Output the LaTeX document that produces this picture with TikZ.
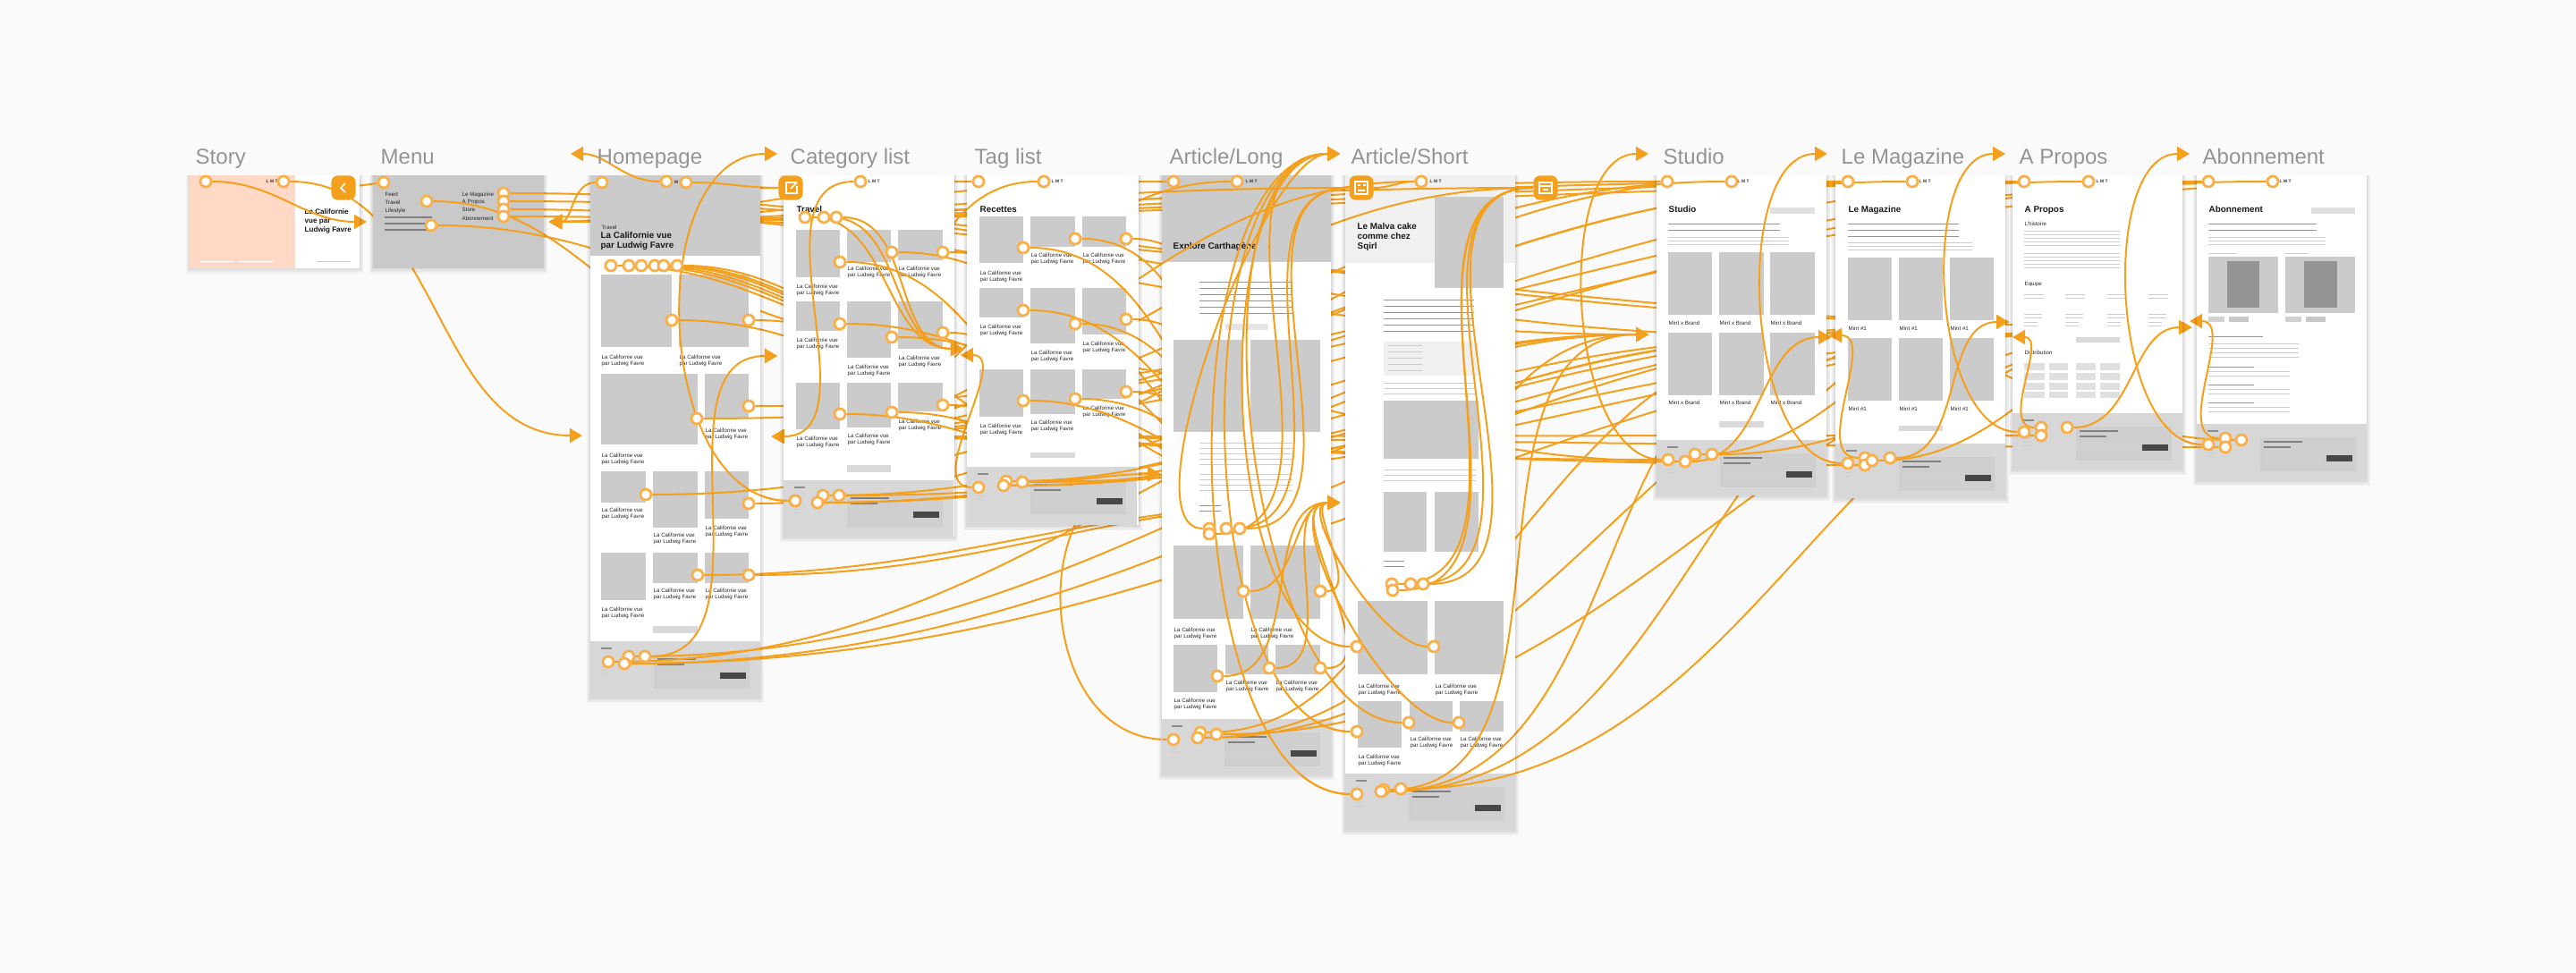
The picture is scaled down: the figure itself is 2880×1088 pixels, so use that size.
\documentclass[tikz,border=0pt]{standalone}
\usepackage{fontspec}
\setmainfont{Liberation Sans}
\usetikzlibrary{arrows.meta, positioning}
\definecolor{wirec}{HTML}{F5A01D}
\definecolor{ringc}{HTML}{F9B04A}
\definecolor{blockc}{HTML}{CBCBCB}
\definecolor{footc}{HTML}{D7D7D7}
\definecolor{panelc}{HTML}{CFCFCF}
\definecolor{peachc}{HTML}{FFD8C6}
\pgfdeclarelayer{links}
\pgfdeclarelayer{screens}
\pgfdeclarelayer{over}
\pgfsetlayers{links,screens,over,main}
\tikzset{
  wire/.style={->, >={Triangle[length=.14cm,width=.16cm]}, color=wirec, line width=.57pt},
  toR/.style={out=0,in=180},
  toL/.style={out=180,in=0},
  loopL/.style={out=180,in=180},
  hot/.style={circle, fill=white, draw=ringc, line width=.8pt, minimum size=.12cm, inner sep=0},
  btn/.style={rectangle, rounded corners=2pt, fill=wirec, minimum width=.27cm, minimum height=.27cm, inner sep=0},
  icon/.style={draw=white, line width=.5pt},
  ttl/.style={anchor=base west, inner sep=0, text=black!42, font=\fontsize{6.83pt}{8pt}\selectfont},
  capt/.style={anchor=north west, inner sep=0, align=left, text=black!85, font=\fontsize{1.75pt}{2pt}\selectfont},
  head/.style={anchor=north west, inner sep=0, align=left, text=black!90, font=\bfseries\fontsize{2.8pt}{3.1pt}\selectfont},
  logo/.style={anchor=west, inner sep=0, text=black!80, font=\bfseries\fontsize{1.4pt}{2pt}\selectfont},
  barL/.style={fill=black!20},
  barD/.style={fill=black!42}
}
\newcounter{cp}
\newcommand{\capt}[3]{\stepcounter{cp}\node[capt] (cp\thecp) at (#1,#2) {#3};}
\newcommand{\screen}[4]{%
  \foreach \k in {1,2,3,4}{\fill[black,opacity=.03] ({#1-\k},{#2}) rectangle ({#3+\k},{#4+1.5*\k});}
  \fill[white] (#1,#2) rectangle (#3,#4);}
\newcommand{\para}[6]{\foreach \k in {1,...,#4}{\fill[#6] (#1,{#3+(\k-1)*#5}) rectangle (#2,{#3+(\k-1)*#5+1.3});}}
\newcommand{\foot}[3]{%
  \fill[footc] (#1,#2) rectangle ({#1+190},#3);
  \fill[panelc] ({#1+71},{#2+15}) rectangle ({#1+178},{#2+53});
  \fill[black!72] ({#1+145},{#2+35}) rectangle ({#1+174},{#2+42});
  \fill[black!45] ({#1+12},{#2+7}) rectangle ({#1+24},{#2+9});
  \fill[black!50] ({#1+75},{#2+19}) rectangle ({#1+118},{#2+21});
  \fill[black!50] ({#1+75},{#2+25}) rectangle ({#1+105},{#2+27});
  \para{#1+12}{#1+19}{#2+28}{3}{4}{barL}
  \fill[black!18] ({#1+76},{#2+35}) rectangle ({#1+142},{#2+42});}
\newcommand{\wires}[2]{%
  \begin{pgfonlayer}{links}\path[wire] #2;\end{pgfonlayer}
  \begin{pgfonlayer}{over}\begin{scope}\clip #1;\path[wire] #2;\end{scope}\end{pgfonlayer}}
\begin{document}
\begin{tikzpicture}[x=.01cm, y=-.01cm]
  \useasboundingbox (0,0) rectangle (2880,1088);
  \begin{pgfonlayer}{links}\fill[black!2] (0,0) rectangle (2880,1088);\end{pgfonlayer}
  % Arrow ends
  \foreach \nm/\x/\y in {tgMenu/410/248, tgMenuR/614/248, tgHome/651/487, tgHomeT/638/172, tgHomeR/863/488,
    tgCat/869/398, tgCatT/869/172, tgTag/1077/390, tgTagR/1074/397, tgLong/1297/530, tgShort/1498/562,
    tgShortT/1498/172, tgStudio/1843/374, tgStudioT/1843/172, tgStudioR/2045/375, tgMag/2047/377,
    tgMagT/2043/172, tgMagR/2250/377, tgProp/2246/360, tgPropT/2242/172, tgPropR/2448/359,
    tgAbon/2450/366, tgAbonT/2448/172, endA/1960/200, endB/2120/205, endC/2500/205, endD/2640/205}
    \coordinate (\nm) at (\x,\y);
  % Hotspots
  \foreach \nm/\x/\y in {
    sA/230/203, sB/317/203,
    mA/429/204, mB/477/225, mC/482/252, mD/563/216, mE/563/225, mF/563/234, mG/563/242,
    hA/673/204, hB/745/203, hC/767/204, hT1/683/297, hT2/703/297, hT3/717/297, hT4/732/297, hT5/742/297, hT6/757/297,
    hI1/751/358, hI2/837/358, hI3/837/454, hI4/779/468, hI5/722/553, hI6/837/563, hI7/837/643, hI8/780/643,
    hF1/680/740, hF2/703/734, hF3/698/742, hF4/721/734,
    cB/962/203, cC/900/243, cD/921/243, cE/935/243, cF/997/282, cG/1054/282, cH/939/293, cI/939/362, cJ/1054/372,
    cK/997/377, cL/1054/453, cM/939/463, cN/997/461, cF1/889/560, cF2/920/554, cF3/914/562, cF4/938/554,
    tA/1094/203, tB/1167/203, tC/1144/277, tD/1202/267, tE/1259/267, tF/1144/347, tG/1202/362, tH/1259/357,
    tI/1144/448, tJ/1202/446, tK/1259/438, tF1/1094/545, tF2/1125/538, tF3/1122/543, tF4/1143/539,
    lA/1312/203, lB/1383/203, lC/1352/591, lD/1371/591, lE/1386/591, lF/1352/597, lG/1390/661, lH/1476/661,
    lI/1361/756, lJ/1419/747, lK/1476/747, lF1/1312/827, lF2/1342/819, lF3/1339/825, lF4/1360/821,
    pB/1589/203, pC/1556/653, pD/1577/653, pE/1591/653, pF/1557/660, pG/1517/723, pH/1603/723, pI/1575/808,
    pJ/1631/808, pK/1517/818, pF1/1517/888, pF2/1547/883, pF3/1544/885, pF4/1566/882,
    uA/1864/203, uB/1936/203, uF1/1865/514, uF2/1884/516, uF3/1895/508, uF4/1914/508,
    gA/2066/203, gB/2138/203, gF1/2066/518, gF2/2085/512, gF3/2085/520, gF4/2093/515, gF5/2113/512,
    oA/2263/203, oB/2335/203, oF1/2263/483, oF2/2282/478, oF3/2282/487, oF4/2311/478,
    aA/2469/203, aB/2541/203, aF1/2469/497, aF2/2488/490, aF3/2488/500, aF4/2506/492}
    \node[hot] (\nm) at (\x,\y) {};
  % Buttons
  \node[btn] (btnStory) at (384,210) {};
  \node[btn] (btnCat) at (884,210) {};
  \node[btn] (btnShort) at (1522,210) {};
  \node[btn] (btnStudio) at (1728,210) {};
  \draw[icon] (386,205) -- (381,210) -- (386,215);
  \draw[icon] (888,204) -- (879,204) -- (879,216) -- (891,216) -- (891,208) (884,211) -- (891,204) (887,204) -- (891,204);
  \draw[icon] (1515,203) rectangle (1529,217) (1518,207) -- (1521,207) (1524,207) -- (1527,207) (1518,213) -- (1526,213);
  \draw[icon] (1721,204) rectangle (1735,216) (1721,208) -- (1735,208) (1725,212) -- (1731,212);
  % Connectors
  \wires{(212,196) rectangle (402,300)}{
    (sA) edge[toR] (tgMenu)
    (sB) edge[toR] (tgHome)}
  \wires{(417,196) rectangle (608,300)}{
    (mA) edge[-] (btnStory)
    (mB) edge[toR] (tgCat)
    (mC) edge[toR] (tgTag)
    (mD) edge[toR] (tgMag)
    (mE) edge[toR] (tgProp)
    (mF) edge[toR] (tgStudio)
    (mG) edge[toR] (tgAbon)}
  \wires{(660,196) rectangle (850,780)}{
    (hA) edge[toL] (tgMenuR)
    (hB) edge[toL] (tgHomeT)
    (hC) edge[-,toR] (btnCat)
    (hT1) edge[toR] (tgTag) (hT2) edge[toR] (tgTag) (hT3) edge[toR] (tgTag)
    (hT4) edge[toR] (tgTag) (hT5) edge[toR] (tgTag) (hT6) edge[toR] (tgTag)
    (hI1) edge[toR] (tgLong) (hI2) edge[toR] (tgLong)
    (hI3) edge[-,toR] (endC) (hI4) edge[-,toR] (endD)
    (hI5) edge[-,toR] (endB) (hI6) edge[-,toR] (endA)
    (hI7) edge[toR] (tgShort) (hI8) edge[toR] (tgShort)
    (hF1) edge[toR] (tgStudio) (hF2) edge[toR] (tgMag)
    (hF3) edge[toR] (tgProp) (hF3) edge[toR] (tgAbon)
    (hF4) edge[toR] (tgCat)}
  \wires{(876,196) rectangle (1067,600)}{
    (btnCat) edge[toL] (tgMenuR)
    (cB) edge[toL] (tgHomeR)
    (cC) edge[toR] (tgTag) (cD) edge[toR] (tgTag) (cE) edge[toR] (tgTag)
    (cF) edge[toR] (tgShort) (cG) edge[toR] (tgShort) (cH) edge[toR] (tgLong)
    (cI) edge[toR] (tgShort) (cJ) edge[toR] (tgLong) (cK) edge[toR] (tgShort)
    (cL) edge[toR] (tgLong) (cM) edge[toR] (tgLong) (cN) edge[toR] (tgLong)
    (cF2) edge[toR] (tgStudio) (cF3) edge[toR] (tgMag)
    (cF3) edge[toR] (tgProp) (cF4) edge[toR] (tgAbon)}
  \wires{(660,196) rectangle (1067,780)}{(cF1) edge[loopL] (tgCatT)}
  \wires{(1081,196) rectangle (1273,587)}{
    (tA) edge[toL] (tgMenuR)
    (tB) edge[toL] (tgHomeR)
    (tC) edge[toR] (tgShort) (tD) edge[toR] (tgShort) (tE) edge[toR] (tgShort)
    (tF) edge[toR] (tgShort) (tG) edge[toR] (tgShort) (tH) edge[toR] (tgShort)
    (tI) edge[toR] (tgShort) (tJ) edge[toR] (tgShort) (tK) edge[toR] (tgShort)
    (tF1) edge[toL] (tgTagR)
    (tF2) edge[toR] (tgStudio) (tF3) edge[toR] (tgMag)
    (tF3) edge[toR] (tgProp) (tF4) edge[toR] (tgAbon) (tF4) edge[toR] (tgLong)}
  \wires{(1299,196) rectangle (1488,866)}{
    (lA) edge[toL] (tgMenuR)
    (lB) edge[toL] (tgHomeR)
    (lC) edge[loopL,looseness=.5] (tgShortT) (lF) edge[toR] (tgShortT)
    (lD) edge[-,toR] (btnShort) (lE) edge[-,toR] (btnShort)
    (lG) edge[toR] (tgShort) (lH) edge[toR] (tgShort) (lI) edge[toR] (tgShort)
    (lJ) edge[toR] (tgShort) (lK) edge[toR] (tgShort)
    (lF1) edge[loopL,looseness=1.3] (tgLong)
    (lF2) edge[toR] (tgStudio) (lF3) edge[toR] (tgMag)
    (lF3) edge[toR] (tgProp) (lF4) edge[toR] (tgAbon)}
  \wires{(1299,196) rectangle (1694,928)}{
    (btnShort) edge[toL] (tgMenuR)
    (pB) edge[-,toL] (btnShort)
    (pB) edge[toL] (tgHomeR)
    (pC) edge[-,toR] (btnStudio) (pD) edge[-,toR] (btnStudio)
    (pE) edge[-,toR] (btnStudio) (pF) edge[-,toR] (btnStudio)
    (pG) edge[loopL,looseness=.7] (tgShortT) (pH) edge[loopL,looseness=.7] (tgShort)
    (pI) edge[loopL,looseness=.7] (tgShortT) (pJ) edge[loopL,looseness=.7] (tgShort)
    (pK) edge[loopL,looseness=.7] (tgShortT)
    (pF1) edge[loopL,looseness=.7] (tgShortT)
    (pF2) edge[toR] (tgStudio) (pF3) edge[toR] (tgMag)
    (pF3) edge[toR] (tgProp) (pF4) edge[toR] (tgAbon)}
  \wires{(1504,196) rectangle (1694,928)}{
    (btnStudio) edge[toL] (tgMenuR)
    (btnStudio) edge[toL] (tgHomeR)}
  \wires{(1852,196) rectangle (2042,554)}{
    (uA) edge[toL] (tgMenuR)
    (uB) edge[toL] (tgHomeR)
    (uF1) edge[loopL,looseness=.8] (tgStudioT)
    (uF1) edge[toL] (tgHomeR) (uF2) edge[toL] (tgTagR)
    (uF2) edge[toR] (tgMag) (uF3) edge[toR] (tgProp) (uF4) edge[toR] (tgAbon)}
  \wires{(2052,196) rectangle (2242,557)}{
    (gA) edge[toL] (tgMenuR)
    (gB) edge[toL] (tgHomeR)
    (gF2) edge[toL] (tgStudioR) (gF3) edge[toL] (tgHomeR)
    (gF4) edge[toR] (tgAbon) (gF5) edge[toR] (tgProp)}
  \wires{(1852,196) rectangle (2242,557)}{(gF1) edge[loopL,looseness=.8] (tgMagT)}
  \wires{(2250,196) rectangle (2440,525)}{
    (oA) edge[toL] (tgMenuR)
    (oB) edge[toL] (tgHomeR)
    (oF2) edge[toL] (tgMagR) (oF3) edge[toL] (tgHomeR)
    (oF4) edge[toR] (tgAbon)}
  \wires{(2052,196) rectangle (2440,557)}{(oF1) edge[loopL,looseness=.8] (tgPropT)}
  \wires{(2456,196) rectangle (2646,537)}{
    (aA) edge[toL] (tgMenuR)
    (aB) edge[toL] (tgHomeR)
    (aF2) edge[toL] (tgPropR) (aF3) edge[toL] (tgHomeR) (aF4) edge[toL] (tgStudioR)}
  \wires{(2250,196) rectangle (2646,537)}{(aF1) edge[loopL,looseness=.8] (tgAbonT)}
  % Frames
  \begin{pgfonlayer}{screens}
    % Story
    \screen{212}{196}{402}{300}
    \fill[peachc] (212,196) rectangle (330,300);
    \node[logo] (lgStory) at (297,203) {L M T};
    \node[head, font=\bfseries\fontsize{2.3pt}{2.85pt}\selectfont] (hdStory) at (340,233) {La Californie\\vue par\\Ludwig Favre};
    \para{224}{262}{292}{1}{1}{fill=white}
    \para{266}{306}{292}{1}{1}{fill=white}
    \para{354}{392}{292}{1}{1}{barL}
    % Menu
    \screen{417}{196}{608}{300}
    \fill[black!21] (417,196) rectangle (608,300);
    \capt{430}{214}{Feed}
    \capt{430}{223}{Travel}
    \capt{430}{232}{Lifestyle}
    \capt{516}{214}{Le Magazine}
    \capt{516}{223}{A Propos}
    \capt{516}{232}{Store}
    \capt{516}{241}{Abonnement}
    \para{430}{483}{242}{3}{7}{fill=black!50}
    \para{430}{483}{243}{3}{7}{fill=black!50}
    % Homepage
    \screen{660}{196}{850}{780}
    \fill[blockc] (660,196) rectangle (850,286);
    \node[logo] (lgHome) at (749,204) {L M T};
    \capt{672}{251}{Travel}
    \node[head] (hdHome) at (671,259) {La Californie vue\\par Ludwig Favre};
    \foreach \a/\b/\c/\d in {672/307/751/388, 759/307/837/388, 672/418/780/497, 788/418/837/468,
      672/527/722/562, 730/527/780/590, 788/527/837/580, 672/618/722/671, 730/618/780/652, 788/618/837/652}
      \fill[blockc] (\a,\b) rectangle (\c,\d);
    \foreach \x/\y in {672/396, 759/396, 788/478, 672/506, 672/567, 730/595, 788/587, 672/678, 730/657, 788/657}
      {\capt{\x}{\y}{La Californie vue\\par Ludwig Favre}}
    \fill[black!15] (730,700) rectangle (780,708);
    \foot{660}{717}{780}
    % Category list
    \screen{876}{196}{1067}{600}
    \node[logo] (lgCat) at (970,203) {L M T};
    \node[head] (hdCat) at (890,230) {Travel};
    \foreach \a/\b/\c/\d in {890/257/939/310, 947/257/996/293, 1004/257/1054/291, 890/337/939/370, 947/337/996/400,
      1004/337/1054/390, 890/428/939/480, 947/428/996/478, 1004/428/1054/460}
      \fill[blockc] (\a,\b) rectangle (\c,\d);
    \foreach \x/\y in {890/317, 947/297, 1004/297, 890/377, 947/407, 1004/397, 890/487, 947/484, 1004/468}
      {\capt{\x}{\y}{La Californie vue\\par Ludwig Favre}}
    \fill[black!15] (947,520) rectangle (996,528);
    \foot{876}{537}{600}
    % Tag list
    \screen{1081}{196}{1273}{587}
    \node[logo] (lgTag) at (1175,203) {L M T};
    \node[head] (hdTag) at (1095,230) {Recettes};
    \foreach \a/\b/\c/\d in {1095/242/1144/294, 1152/242/1202/276, 1210/242/1259/276, 1095/322/1144/355, 1152/322/1202/384,
      1210/322/1259/374, 1095/413/1144/466, 1152/413/1202/463, 1210/413/1259/446}
      \fill[blockc] (\a,\b) rectangle (\c,\d);
    \foreach \x/\y in {1095/302, 1152/282, 1210/282, 1095/362, 1152/391, 1210/381, 1095/473, 1152/469, 1210/453}
      {\capt{\x}{\y}{La Californie vue\\par Ludwig Favre}}
    \fill[black!15] (1152,506) rectangle (1202,512);
    \foot{1081}{522}{587}
    % Article/Long
    \screen{1299}{196}{1488}{866}
    \fill[blockc] (1299,196) rectangle (1488,293);
    \node[logo] (lgLong) at (1392,203) {L M T};
    \node[head] (hdLong) at (1311,271) {Explore Carthagène};
    \para{1341}{1445}{315}{6}{7}{barD}
    \fill[black!10] (1370,362) rectangle (1418,369);
    \foreach \a/\b/\c/\d in {1312/380/1390/483, 1398/380/1476/483, 1312/610/1390/692, 1398/610/1476/692,
      1312/721/1361/774, 1370/721/1418/754, 1426/721/1476/754}
      \fill[blockc] (\a,\b) rectangle (\c,\d);
    \para{1341}{1445}{495}{5}{6}{barL}
    \para{1341}{1445}{530}{4}{6}{barL}
    \para{1341}{1365}{565}{2}{6}{barD}
    \foreach \x/\y in {1312/701, 1398/701, 1312/780, 1370/760, 1426/760}
      {\capt{\x}{\y}{La Californie vue\\par Ludwig Favre}}
    \foot{1298}{804}{866}
    % Article/Short
    \screen{1504}{196}{1694}{928}
    \fill[black!6] (1504,196) rectangle (1694,294);
    \node[logo] (lgShort) at (1598,203) {L M T};
    \node[head] (hdShort) at (1517,249) {Le Malva cake\\comme chez\\Sqirl};
    \foreach \a/\b/\c/\d in {1604/220/1681/322, 1547/448/1653/513, 1547/550/1595/617, 1604/550/1653/617,
      1518/672/1596/754, 1604/672/1681/754, 1518/784/1567/836, 1576/784/1624/818, 1632/784/1681/818}
      \fill[blockc] (\a,\b) rectangle (\c,\d);
    \fill[black!6] (1547,382) rectangle (1653,420);
    \para{1547}{1648}{335}{6}{7}{barD}
    \para{1552}{1590}{386}{5}{7}{barL}
    \para{1547}{1650}{428}{3}{6}{barL}
    \para{1547}{1650}{525}{3}{6}{barL}
    \para{1547}{1570}{627}{2}{6}{barD}
    \foreach \x/\y in {1518/764, 1604/764, 1518/843, 1576/823, 1632/823}
      {\capt{\x}{\y}{La Californie vue\\par Ludwig Favre}}
    \foot{1504}{865}{928}
    % Studio
    \screen{1852}{196}{2042}{554}
    \node[logo] (lgStudio) at (1942,203) {L M T};
    \node[head] (hdStudio) at (1865,230) {Studio};
    \fill[black!12] (1979,232) rectangle (2029,239);
    \para{1865}{1990}{250}{2}{7}{barD}
    \para{1865}{2000}{265}{3}{4}{barL}
    \foreach \x/\X in {1865/1914, 1922/1972, 1979/2029}{
      \fill[blockc] (\x,282) rectangle (\X,352);
      \fill[blockc] (\x,372) rectangle (\X,442);
      \capt{\x}{358}{Mint x Brand}
      \capt{\x}{447}{Mint x Brand}}
    \fill[black!15] (1922,471) rectangle (1972,478);
    \foot{1852}{492}{554}
    % Le Magazine
    \screen{2052}{196}{2242}{557}
    \node[logo] (lgMag) at (2145,203) {L M T};
    \node[head] (hdMag) at (2066,230) {Le Magazine};
    \para{2066}{2190}{250}{3}{7}{barD}
    \para{2066}{2205}{271}{3}{4}{barL}
    \foreach \x/\X in {2066/2115, 2123/2172, 2180/2229}{
      \fill[blockc] (\x,288) rectangle (\X,358);
      \fill[blockc] (\x,378) rectangle (\X,448);
      \capt{\x}{364}{Mint \#1}
      \capt{\x}{454}{Mint \#1}}
    \fill[black!15] (2123,476) rectangle (2172,482);
    \foot{2052}{496}{557}
    % A Propos
    \screen{2250}{196}{2440}{525}
    \node[logo] (lgProp) at (2343,203) {L M T};
    \node[head] (hdProp) at (2263,230) {A Propos};
    \capt{2263}{247}{L'histoire}
    \para{2263}{2370}{258}{5}{4}{barL}
    \para{2263}{2370}{283}{5}{4}{barL}
    \capt{2263}{314}{Equipe}
    \foreach \x in {2263,2309,2356,2402}{
      \para{\x}{\x+22}{329}{2}{4}{barL}
      \para{\x}{\x+20}{351}{2}{4}{barL}
      \para{\x}{\x+15}{360}{2}{4}{barL}}
    \fill[black!15] (2321,377) rectangle (2370,383);
    \capt{2263}{391}{Distribution}
    \foreach \x/\X in {2263/2286, 2291/2312, 2321/2343, 2348/2370}
      \foreach \y/\Y in {406/414, 417/425, 428/436, 438/445}
        \fill[black!12] (\x,\y) rectangle (\X,\Y);
    \foot{2250}{462}{525}
    % Abonnement
    \screen{2456}{196}{2646}{537}
    \node[logo] (lgAbon) at (2548,203) {L M T};
    \node[head] (hdAbon) at (2469,230) {Abonnement};
    \fill[black!12] (2584,232) rectangle (2633,239);
    \para{2469}{2590}{250}{2}{7}{barD}
    \para{2469}{2600}{265}{3}{4}{barL}
    \para{2469}{2500}{283}{1}{4}{barL}
    \para{2555}{2580}{283}{1}{4}{barL}
    \foreach \x/\X/\i/\I in {2469/2547/2490/2526, 2555/2633/2576/2613}{
      \fill[blockc] (\x,287) rectangle (\X,350);
      \fill[black!42] (\i,292) rectangle (\I,344);
      \fill[black!18] (\x,354) rectangle ({\x+18},360);
      \fill[black!22] ({\x+23},354) rectangle ({\x+45},360);}
    \para{2469}{2530}{376}{1}{4}{barD}
    \para{2469}{2570}{384}{4}{5}{barL}
    \para{2469}{2520}{410}{1}{4}{barD}
    \para{2469}{2560}{415}{2}{5}{barL}
    \para{2469}{2520}{430}{1}{4}{barD}
    \para{2469}{2560}{435}{2}{5}{barL}
    \para{2469}{2520}{450}{1}{4}{barD}
    \para{2469}{2560}{455}{2}{5}{barL}
    \foot{2456}{474}{537}
    % Titles
    \foreach \nm/\x/\t in {tStory/218/Story, tMenu/425/Menu, tHome/667/Homepage, tCat/883/Category list, tTag/1089/Tag list,
      tLong/1307/Article\slash Long, tShort/1510/Article\slash Short, tStudio/1859/Studio, tMag/2058/Le Magazine,
      tProp/2257/A Propos, tAbon/2462/Abonnement}
      \node[ttl] (\nm) at (\x,184) {\t};
  \end{pgfonlayer}
\end{tikzpicture}
\end{document}
